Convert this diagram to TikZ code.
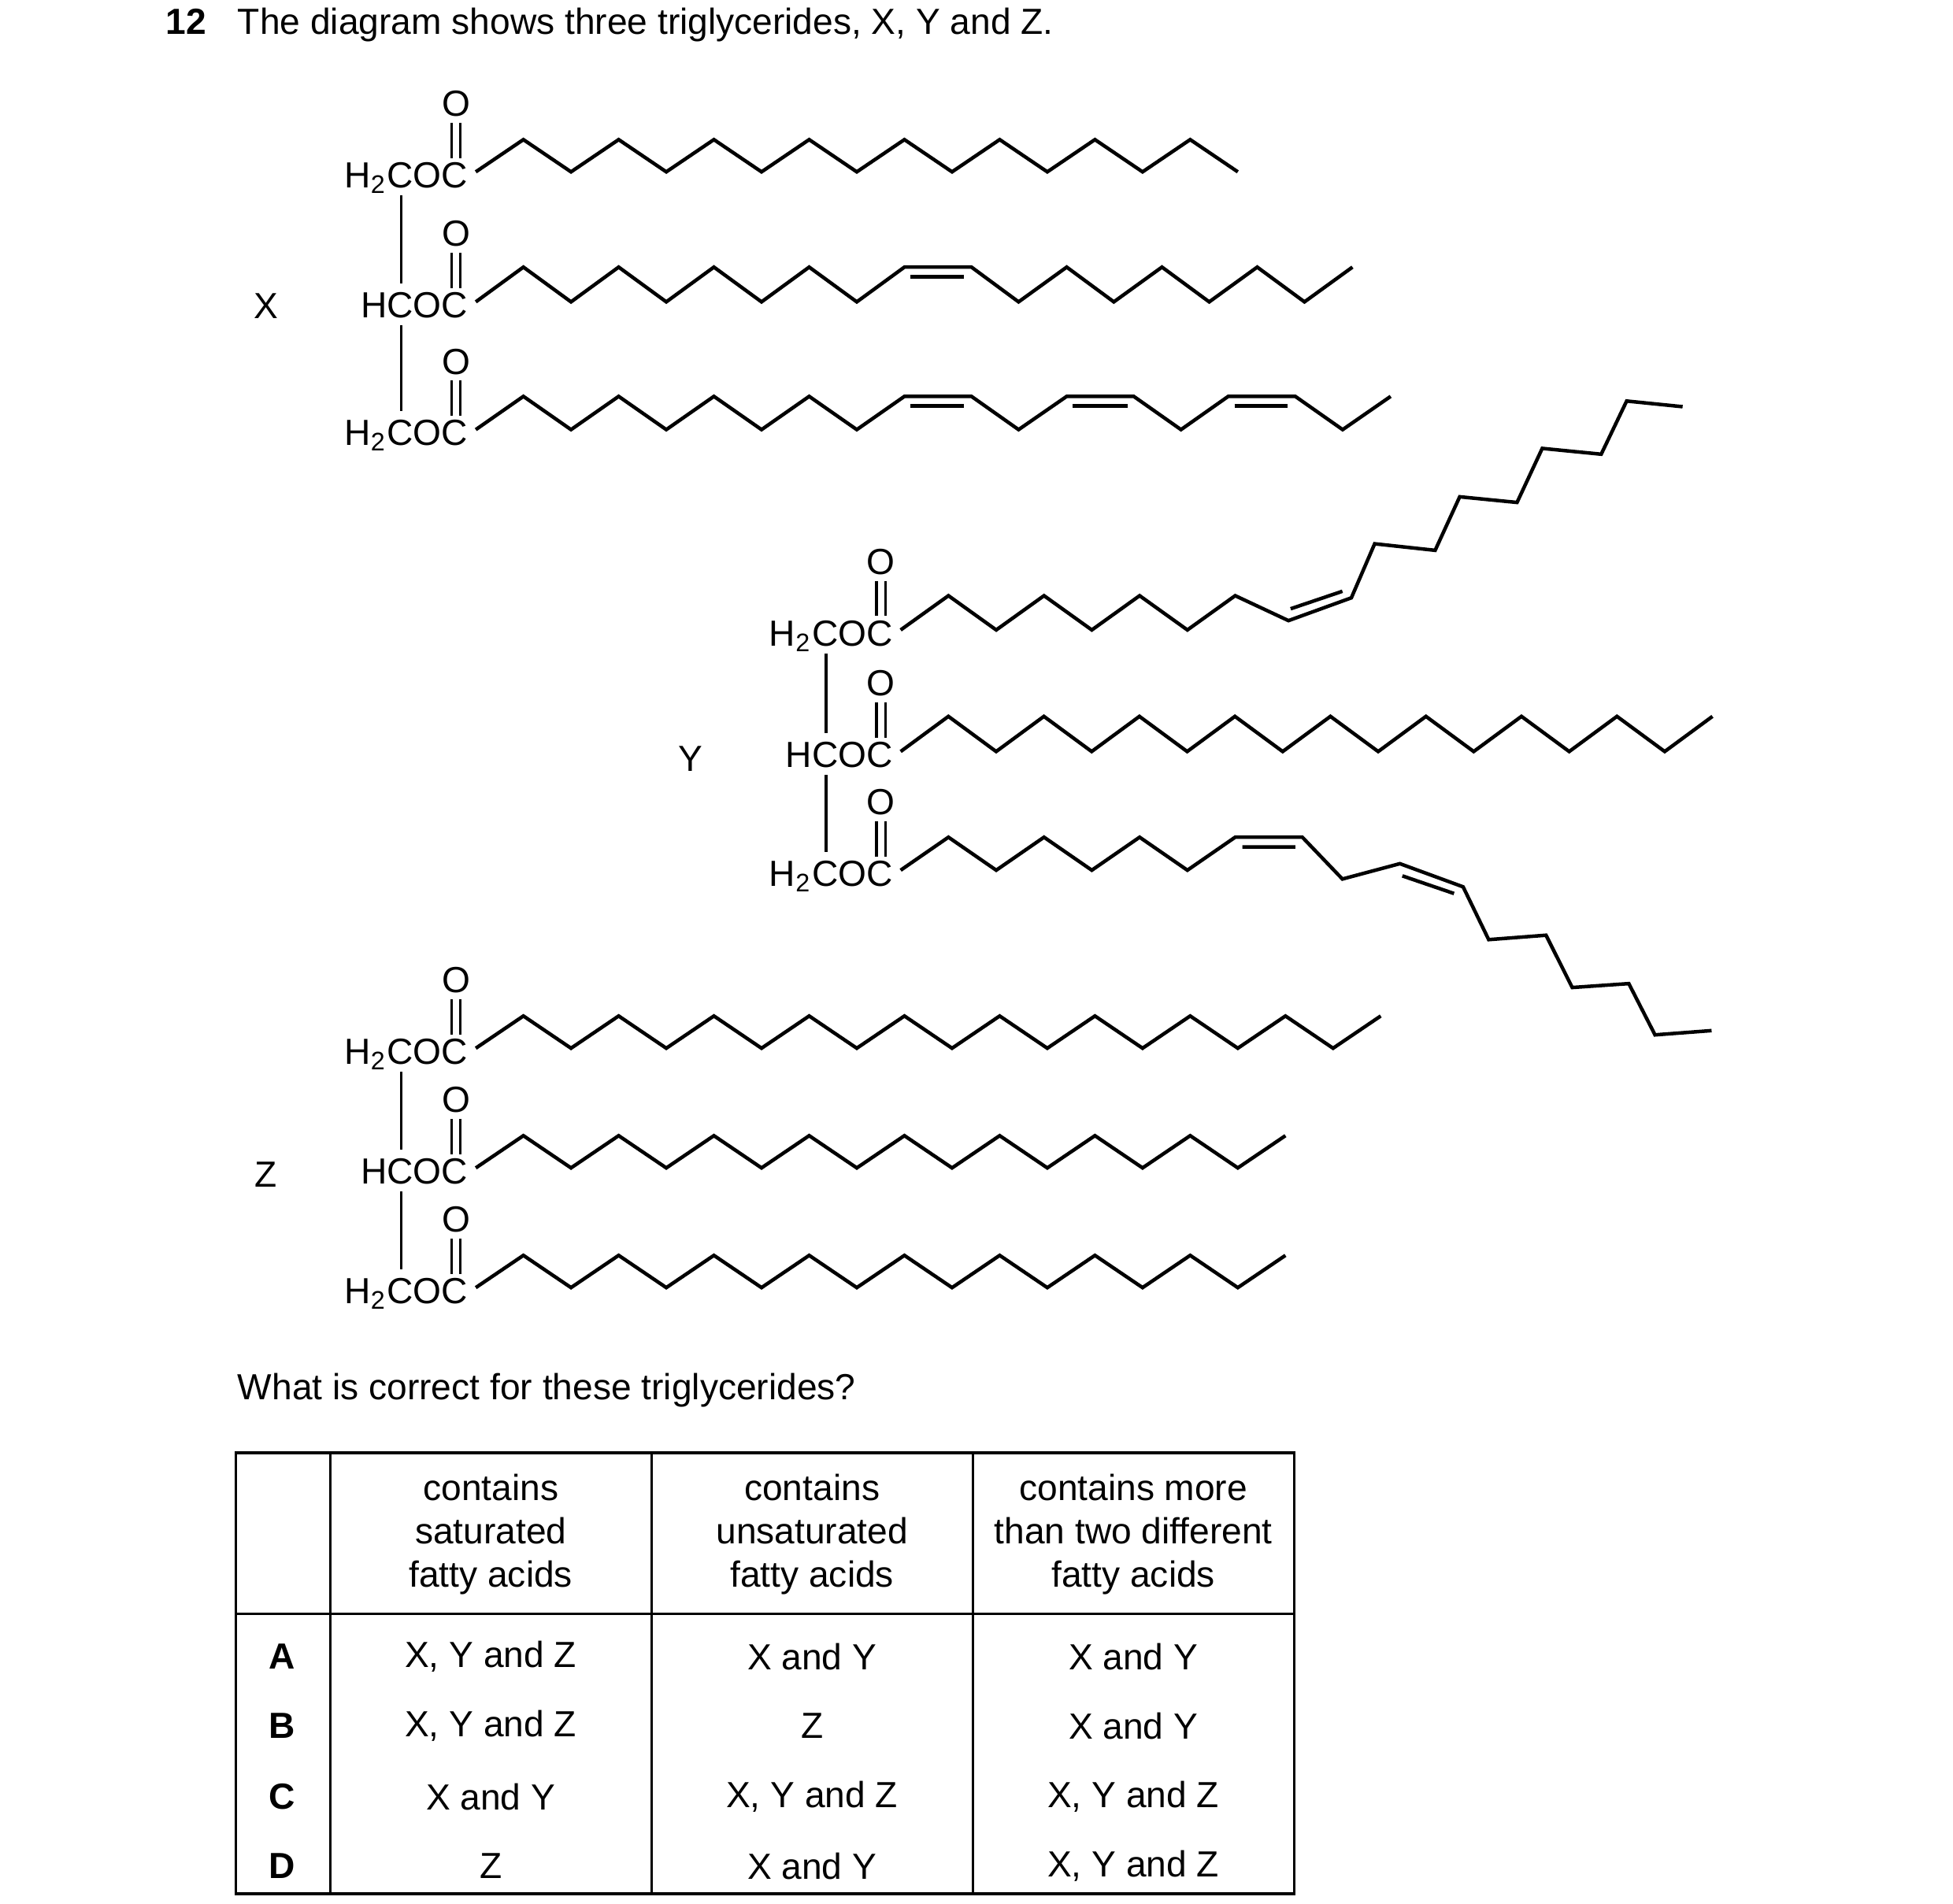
\documentclass[tikz,border=0pt]{standalone}
\usepackage{fontspec}
\setmainfont{Liberation Sans}
\begin{document}
\begin{tikzpicture}[x=0.01cm,y=-0.01cm,
  bond/.style={line width=0.8pt,line join=miter},
  dbl/.style={line width=0.6pt},
  lbl/.style={inner sep=0pt,font=\fontsize{8.2}{9.8}\selectfont},
  tline/.style={line width=0.6pt}]
\useasboundingbox (0,0) rectangle (1550,1511.25);
\newcommand\ester[4]{%
  \node[lbl,anchor=base east] (#4) at ({#1-5.6},{#2+12.5}) {#3};
  \node[lbl] (#4o) at ({#1-15.6},{#2-54}) {O};
  \draw[dbl] ({#1-19.1},{#2-39}) -- ({#1-19.1},{#2-11}) ({#1-12.1},{#2-39}) -- ({#1-12.1},{#2-11});}
\newcommand\glyline[3]{\draw[dbl] ({#1-59.2},{#2+18.6}) -- ({#1-59.2},{#3-14.6});}
% title
\node[lbl,anchor=base west,font=\fontsize{8.2}{9.8}\selectfont\bfseries] (num) at (131,27) {12};
\node[lbl,anchor=base west] (title) at (188,27) {The diagram shows three triglycerides, X, Y and Z.};
% ---------- X ----------
\node[lbl] (lX) at (211,243) {X};
\ester{377.6}{136.4}{H\textsubscript{2}COC}{x1}
\ester{377.6}{239.6}{HCOC}{x2}
\ester{377.6}{341}{H\textsubscript{2}COC}{x3}
\glyline{377.6}{136.4}{239.6}
\glyline{377.6}{239.6}{341}
\draw[bond] (377.6,136.4) \foreach \i in {1,...,16}{ -- ++(37.8,{-25.6*(2*mod(\i,2)-1)}) };
\draw[bond] (377.6,239.6) \foreach \i in {1,...,9}{ -- ++(37.8,{-27.6*(2*mod(\i,2)-1)}) }
  -- (771,212) -- (808.4,239.6) -- (846.6,212) -- (884,239.6) -- (922.2,212) -- (959.7,239.6) -- (997.8,212) -- (1035.3,239.6) -- (1073.4,212);
\draw[bond] (722.5,219.8) -- (765,219.8);
\draw[bond] (377.6,341) \foreach \i in {1,...,9}{ -- ++(37.8,{-26.4*(2*mod(\i,2)-1)}) }
  -- (771,314.6) -- (808.4,341) -- (846.6,314.6) -- (899.8,314.6) -- (937.3,341) -- (974.8,314.6) -- (1028,314.6) -- (1065.6,341) -- (1103.7,314.6);
\draw[bond] (722.5,322.3) -- (765,322.3) (851.4,322.3) -- (895,322.3) (979.7,322.3) -- (1022,322.3);
% ---------- Y ----------
\node[lbl] (lY) at (548,602) {Y};
\ester{714.8}{500}{H\textsubscript{2}COC}{y1}
\ester{714.8}{596.5}{HCOC}{y2}
\ester{714.8}{690.7}{H\textsubscript{2}COC}{y3}
\glyline{714.8}{500}{596.5}
\glyline{714.8}{596.5}{690.7}
\draw[bond] (714.8,500) \foreach \i in {1,...,7}{ -- ++(37.93,{-27.2*(2*mod(\i,2)-1)}) }
  -- (1022.6,492.6) -- (1072.5,474.5) -- (1091,431.6) -- (1139,436.8) -- (1158.5,394.3) -- (1204,398.8) -- (1224,355.9) -- (1270.8,360.5) -- (1291,318.3) -- (1335.4,322.8);
\draw[bond] (1024.3,483.2) -- (1065.4,469.3);
\draw[bond] (714.8,596.5) \foreach \i in {1,...,17}{ -- ++(37.9,{-27.9*(2*mod(\i,2)-1)}) };
\draw[bond] (714.8,690.7) \foreach \i in {1,...,7}{ -- ++(37.93,{-26.2*(2*mod(\i,2)-1)}) }
  -- (1033.6,664.5) -- (1065.4,697.7) -- (1111,685.5) -- (1161.2,703.9) -- (1181.5,745.8) -- (1227,742.3) -- (1247.8,783.8) -- (1292.7,780.7) -- (1313.5,821.4) -- (1358.4,818);
\draw[bond] (986,672.2) -- (1028,672.2) (1113,695.2) -- (1154,709.2);
% ---------- Z ----------
\node[lbl] (lZ) at (211,932) {Z};
\ester{377.6}{832}{H\textsubscript{2}COC}{z1}
\ester{377.6}{927}{HCOC}{z2}
\ester{377.6}{1022}{H\textsubscript{2}COC}{z3}
\glyline{377.6}{832}{927}
\glyline{377.6}{927}{1022}
\draw[bond] (377.6,832) \foreach \i in {1,...,19}{ -- ++(37.8,{-25.6*(2*mod(\i,2)-1)}) };
\draw[bond] (377.6,927) \foreach \i in {1,...,17}{ -- ++(37.8,{-25.6*(2*mod(\i,2)-1)}) };
\draw[bond] (377.6,1022) \foreach \i in {1,...,17}{ -- ++(37.8,{-25.6*(2*mod(\i,2)-1)}) };
% ---------- question & table ----------
\node[lbl,anchor=base west] (q) at (188,1111) {What is correct for these triglycerides?};
\draw[tline] (187,1153) rectangle (1027,1503);
\draw[tline] (187,1281) -- (1027,1281);
\foreach \x in {262,517,772} \draw[tline] (\x,1153) -- (\x,1503);
\node[lbl,align=center] (h1) at (389.5,1218) {contains\\saturated\\fatty acids};
\node[lbl,align=center] (h2) at (644.5,1218) {contains\\unsaturated\\fatty acids};
\node[lbl,align=center] (h3) at (899.5,1218) {contains more\\than two different\\fatty acids};
\foreach \L/\a/\b/\c/\y in {A/{X, Y and Z}/{X and Y}/{X and Y}/1315,
                           B/{X, Y and Z}/Z/{X and Y}/1370,
                           C/{X and Y}/{X, Y and Z}/{X, Y and Z}/1426,
                           D/Z/{X and Y}/{X, Y and Z}/1481}{
  \node[lbl,font=\fontsize{8.2}{9.8}\selectfont\bfseries] (r\L) at (224,\y) {\L};
  \node[lbl] (r\L a) at (389.5,\y) {\a};
  \node[lbl] (r\L b) at (644.5,\y) {\b};
  \node[lbl] (r\L c) at (899.5,\y) {\c};
}
\end{tikzpicture}
\end{document}
